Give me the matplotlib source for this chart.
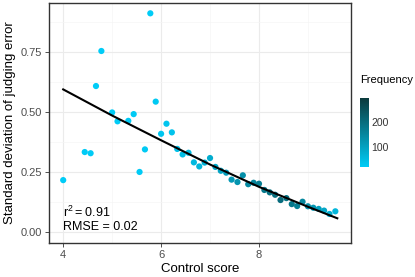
import matplotlib
matplotlib.use('Agg')
import matplotlib.pyplot as plt
from matplotlib.colors import LinearSegmentedColormap, Normalize
from matplotlib.ticker import MultipleLocator

plt.rcParams['font.family'] = ['Liberation Sans', 'DejaVu Sans']

# data
score = [4.00, 4.44, 4.56, 4.67, 4.78, 5.00, 5.11, 5.33, 5.44, 5.56, 5.67, 5.78,
         5.89, 6.00, 6.11, 6.22, 6.33, 6.44, 6.56, 6.67, 6.78, 6.89, 7.00, 7.11,
         7.22, 7.33, 7.44, 7.56, 7.67, 7.78, 7.89, 8.00, 8.11, 8.22, 8.33, 8.44,
         8.56, 8.67, 8.78, 8.89, 9.00, 9.11, 9.22, 9.33, 9.44, 9.56]
sd_error = [0.215, 0.332, 0.327, 0.607, 0.753, 0.497, 0.460, 0.462, 0.490, 0.249,
            0.343, 0.910, 0.542, 0.408, 0.450, 0.414, 0.345, 0.322, 0.329, 0.289,
            0.272, 0.288, 0.307, 0.270, 0.254, 0.246, 0.217, 0.207, 0.235, 0.198,
            0.204, 0.200, 0.174, 0.164, 0.154, 0.132, 0.140, 0.115, 0.107, 0.125,
            0.106, 0.100, 0.095, 0.088, 0.074, 0.085]
frequency = [20, 21, 21, 20, 20, 22, 22, 23, 24, 22, 24, 20, 25, 30, 33, 36, 40,
             45, 50, 55, 62, 70, 80, 88, 95, 105, 115, 125, 135, 145, 155, 165,
             180, 190, 195, 200, 190, 180, 165, 150, 135, 120, 105, 90, 75, 60]

fit_x = [4.0, 5.0, 6.0, 7.0, 8.0, 9.0, 9.6]
fit_y = [0.593, 0.484, 0.381, 0.280, 0.187, 0.104, 0.056]

r2_label = r'$\mathregular{r^2 = 0.91}$'
rmse_label = 'RMSE = 0.02'

cmap = LinearSegmentedColormap.from_list('freq', ['#00CCF7', '#0B3A3C'])
norm = Normalize(19, 295)

fig = plt.figure(figsize=(4.15, 2.77), dpi=100)
ax = fig.add_axes([49 / 415, 1 - 243 / 277, 302 / 415, 240 / 277])

ax.scatter(score, sd_error, c=frequency, cmap=cmap, norm=norm, s=20,
           linewidths=0, zorder=3)
ax.plot(fit_x, fit_y, color='black', lw=1.5, zorder=4)

ax.text(4.0, 0.06, r2_label, fontsize=9, va='baseline', zorder=5)
ax.text(4.0, 0.007, rmse_label, fontsize=9, va='baseline', zorder=5)

ax.set_xlim(3.71, 9.88)
ax.set_ylim(-0.047, 0.953)
ax.xaxis.set_major_locator(MultipleLocator(2))
ax.xaxis.set_minor_locator(MultipleLocator(1))
ax.yaxis.set_major_locator(MultipleLocator(0.25))
ax.yaxis.set_minor_locator(MultipleLocator(0.125))
ax.yaxis.set_major_formatter(lambda v, p: f'{v:.2f}')
ax.grid(which='major', color='#EBEBEB', lw=0.8)
ax.grid(which='minor', color='#F5F5F5', lw=0.5)
ax.set_axisbelow(True)
for s in ax.spines.values():
    s.set_color('#333333')
    s.set_linewidth(1.0)
ax.tick_params(which='major', length=3, width=0.6, color='#333333',
               labelsize=8, labelcolor='#4D4D4D', pad=2)
ax.tick_params(which='minor', length=0)
ax.set_xlabel('Control score', fontsize=9.5, labelpad=2)
ax.set_ylabel('Standard deviation of judging error', fontsize=9.5, labelpad=3)

cax = fig.add_axes([360 / 415, 1 - 167 / 277, 9 / 415, 69 / 277])
cb = fig.colorbar(plt.cm.ScalarMappable(norm=norm, cmap=cmap), cax=cax)
cb.set_ticks([100, 200])
cb.outline.set_visible(False)
cax.tick_params(length=0, labelsize=7.5, labelcolor='#333333', pad=1.5)
fig.text(360 / 415, 1 - 80 / 277, 'Frequency', fontsize=8, va='center')

fig.savefig('out.png', dpi=100)
